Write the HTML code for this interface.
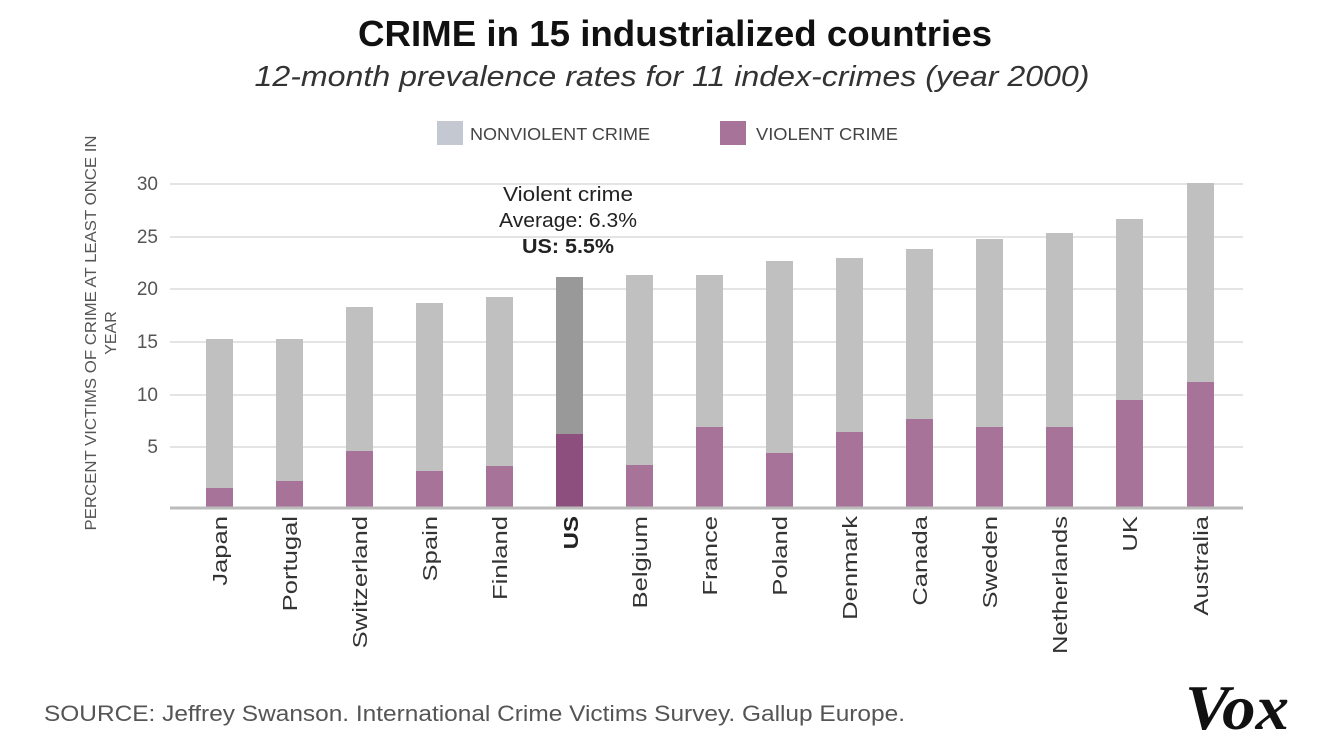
<!DOCTYPE html>
<html><head><meta charset="utf-8"><style>
body{margin:0;background:#fff;}
svg{display:block;font-family:"Liberation Sans",sans-serif;}
</style></head><body>
<svg width="1320" height="743" viewBox="0 0 1320 743">
<text x="675" y="46" text-anchor="middle" font-size="36" font-weight="bold" fill="#111" textLength="634" lengthAdjust="spacingAndGlyphs">CRIME in 15 industrialized countries</text>
<text x="672" y="86" text-anchor="middle" font-size="29" font-style="italic" fill="#333" textLength="835" lengthAdjust="spacingAndGlyphs">12-month prevalence rates for 11 index-crimes (year 2000)</text>
<rect x="437" y="121" width="26" height="24" fill="#c4c8d0"/>
<text x="470" y="140" font-size="17.5" fill="#444" textLength="180" lengthAdjust="spacingAndGlyphs">NONVIOLENT CRIME</text>
<rect x="720" y="121" width="26" height="24" fill="#a87398"/>
<text x="756" y="140" font-size="17.5" fill="#444" textLength="142" lengthAdjust="spacingAndGlyphs">VIOLENT CRIME</text>
<g stroke="#dcdcdc" stroke-width="1.5">
<line x1="170" x2="1243" y1="184" y2="184"/><line x1="170" x2="1243" y1="237" y2="237"/>
<line x1="170" x2="1243" y1="289" y2="289"/><line x1="170" x2="1243" y1="342" y2="342"/>
<line x1="170" x2="1243" y1="395" y2="395"/><line x1="170" x2="1243" y1="447" y2="447"/>
</g>
<g font-size="19" fill="#555" text-anchor="end">
<text x="158" y="190">30</text><text x="158" y="243">25</text><text x="158" y="295">20</text>
<text x="158" y="348">15</text><text x="158" y="401">10</text><text x="158" y="453">5</text>
</g>
<text transform="translate(96,333) rotate(-90)" text-anchor="middle" font-size="16" fill="#555" textLength="395" lengthAdjust="spacingAndGlyphs">PERCENT VICTIMS OF CRIME AT LEAST ONCE IN</text>
<text transform="translate(116,333) rotate(-90)" text-anchor="middle" font-size="16" fill="#555">YEAR</text>
<g id="bars">
<rect x="206" y="339" width="27" height="169" fill="#c0c0c0"/><rect x="206" y="488" width="27" height="20" fill="#a87398"/>
<rect x="276" y="339" width="27" height="169" fill="#c0c0c0"/><rect x="276" y="481" width="27" height="27" fill="#a87398"/>
<rect x="346" y="307" width="27" height="201" fill="#c0c0c0"/><rect x="346" y="451" width="27" height="57" fill="#a87398"/>
<rect x="416" y="303" width="27" height="205" fill="#c0c0c0"/><rect x="416" y="471" width="27" height="37" fill="#a87398"/>
<rect x="486" y="297" width="27" height="211" fill="#c0c0c0"/><rect x="486" y="466" width="27" height="42" fill="#a87398"/>
<rect x="556" y="277" width="27" height="231" fill="#999"/><rect x="556" y="434" width="27" height="74" fill="#8c4f7e"/>
<rect x="626" y="275" width="27" height="233" fill="#c0c0c0"/><rect x="626" y="465" width="27" height="43" fill="#a87398"/>
<rect x="696" y="275" width="27" height="233" fill="#c0c0c0"/><rect x="696" y="427" width="27" height="81" fill="#a87398"/>
<rect x="766" y="261" width="27" height="247" fill="#c0c0c0"/><rect x="766" y="453" width="27" height="55" fill="#a87398"/>
<rect x="836" y="258" width="27" height="250" fill="#c0c0c0"/><rect x="836" y="432" width="27" height="76" fill="#a87398"/>
<rect x="906" y="249" width="27" height="259" fill="#c0c0c0"/><rect x="906" y="419" width="27" height="89" fill="#a87398"/>
<rect x="976" y="239" width="27" height="269" fill="#c0c0c0"/><rect x="976" y="427" width="27" height="81" fill="#a87398"/>
<rect x="1046" y="233" width="27" height="275" fill="#c0c0c0"/><rect x="1046" y="427" width="27" height="81" fill="#a87398"/>
<rect x="1116" y="219" width="27" height="289" fill="#c0c0c0"/><rect x="1116" y="400" width="27" height="108" fill="#a87398"/>
<rect x="1187" y="183" width="27" height="325" fill="#c0c0c0"/><rect x="1187" y="382" width="27" height="126" fill="#a87398"/>
</g>
<line x1="170" x2="1243" y1="508" y2="508" stroke="#bbb" stroke-width="3"/>
<g font-size="20" fill="#333" text-anchor="end">
<text transform="translate(227,516) rotate(-90) scale(1.28,1)">Japan</text>
<text transform="translate(297,516) rotate(-90) scale(1.28,1)">Portugal</text>
<text transform="translate(367,516) rotate(-90) scale(1.28,1)">Switzerland</text>
<text transform="translate(437,516) rotate(-90) scale(1.28,1)">Spain</text>
<text transform="translate(507,516) rotate(-90) scale(1.28,1)">Finland</text>
<text transform="translate(578,516) rotate(-90) scale(1.2,1)" font-weight="bold" fill="#222">US</text>
<text transform="translate(647,516) rotate(-90) scale(1.28,1)">Belgium</text>
<text transform="translate(717,516) rotate(-90) scale(1.28,1)">France</text>
<text transform="translate(787,516) rotate(-90) scale(1.28,1)">Poland</text>
<text transform="translate(857,516) rotate(-90) scale(1.28,1)">Denmark</text>
<text transform="translate(927,516) rotate(-90) scale(1.28,1)">Canada</text>
<text transform="translate(997,516) rotate(-90) scale(1.28,1)">Sweden</text>
<text transform="translate(1067,516) rotate(-90) scale(1.28,1)">Netherlands</text>
<text transform="translate(1137,516) rotate(-90) scale(1.28,1)">UK</text>
<text transform="translate(1208,516) rotate(-90) scale(1.28,1)">Australia</text>
</g>
<g font-size="20" fill="#222" text-anchor="middle">
<text x="568" y="201" textLength="130" lengthAdjust="spacingAndGlyphs">Violent crime</text>
<text x="568" y="227" textLength="138" lengthAdjust="spacingAndGlyphs">Average: 6.3%</text>
<text x="568" y="253" font-weight="bold" textLength="92" lengthAdjust="spacingAndGlyphs">US: 5.5%</text>
</g>
<text x="44" y="721" font-size="22.5" fill="#555" textLength="861" lengthAdjust="spacingAndGlyphs">SOURCE: Jeffrey Swanson. International Crime Victims Survey. Gallup Europe.</text>
<text x="1237" y="729" text-anchor="middle" font-family="Liberation Serif,serif" font-size="64" font-weight="bold" font-style="italic" fill="#111" textLength="104" lengthAdjust="spacingAndGlyphs">Vox</text>
</svg>
</body></html>
